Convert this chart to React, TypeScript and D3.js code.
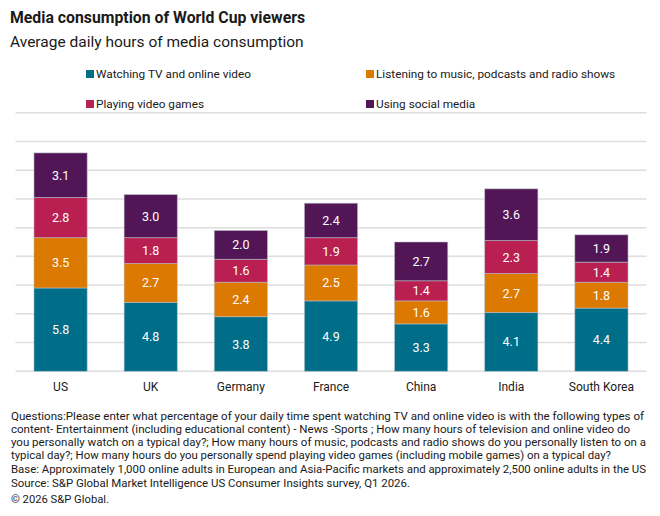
import React from "react";
import * as d3 from "d3";

const countries = ["US", "UK", "Germany", "France", "China", "India", "South Korea"];
const seriesNames = [
  "Watching TV and online video",
  "Listening to music, podcasts and radio shows",
  "Playing video games",
  "Using social media",
];
const seriesColors = ["#006e88", "#dc7900", "#b91f50", "#521656"];
const tvVideo = [5.8, 4.8, 3.8, 4.9, 3.3, 4.1, 4.4];
const audio = [3.5, 2.7, 2.4, 2.5, 1.6, 2.7, 1.8];
const games = [2.8, 1.8, 1.6, 1.9, 1.4, 2.3, 1.4];
const social = [3.1, 3.0, 2.0, 2.4, 2.7, 3.6, 1.9];
const gridTicks = [0, 2, 4, 6, 8, 10, 12, 14, 16, 18];

const footnoteLines = [
  "Questions:Please enter what percentage of your daily time spent watching TV and online video is with the following types of",
  "content- Entertainment (including educational content) - News -Sports ; How many hours of television and online video do",
  "you personally watch on a typical day?; How many hours of music, podcasts and radio shows do you personally listen to on a",
  "typical day?; How many hours do you personally spend playing video games (including mobile games) on a typical day?",
];
const baseLine =
  "Base: Approximately 1,000 online adults in European and Asia-Pacific markets and approximately 2,500 online adults in the US";
const sourceLine = "Source: S&P Global Market Intelligence US Consumer Insights survey, Q1 2026.";
const copyrightLine = "© 2026 S&P Global.";

const W = 660;
const H = 516;
const FONT = "Roboto, 'Liberation Sans', Arial, sans-serif";

// widths the footnote lines are fitted to, in px
const footnoteWidths = [633, 619, 635, 600];

export default function App() {
  const plot = { left: 15.5, right: 646.5, top: 112.7, bottom: 371.3 };

  const x = d3
    .scaleBand<string>()
    .domain(countries)
    .range([plot.left, plot.right])
    .paddingInner(0.41)
    .paddingOuter(0.205);

  const y = d3.scaleLinear().domain([0, 18]).range([plot.bottom, plot.top]);

  const rows = countries.map((c, i) => ({
    country: c,
    s0: tvVideo[i],
    s1: audio[i],
    s2: games[i],
    s3: social[i],
  }));
  const keys = ["s0", "s1", "s2", "s3"];
  const stacked = d3.stack<any>().keys(keys)(rows);

  const legendItems = [
    { x: 86, y: 74, i: 0 },
    { x: 366, y: 74, i: 1 },
    { x: 86, y: 104, i: 2 },
    { x: 366, y: 104, i: 3 },
  ];

  return (
    <svg
      width={W}
      height={H}
      style={{ position: "absolute", left: 0, top: 0, background: "#fff" }}
      fontFamily={FONT}
    >
      <text x={10} y={23} fontSize={15.8} fontWeight={700} fill="#1a1a1a">
        Media consumption of World Cup viewers
      </text>
      <text x={10} y={47} fontSize={15.5} fill="#1a1a1a">
        Average daily hours of media consumption
      </text>

      {legendItems.map((l) => (
        <g key={l.i}>
          <rect x={l.x} y={l.y - 4} width={8} height={8} fill={seriesColors[l.i]} />
          <text x={l.x + 10} y={l.y + 4} fontSize={11.8} fill="#1a1a1a">
            {seriesNames[l.i]}
          </text>
        </g>
      ))}

      {gridTicks.map((t) => (
        <line
          key={t}
          x1={plot.left}
          x2={plot.right}
          y1={y(t)}
          y2={y(t)}
          stroke="#dedede"
          strokeWidth={1.5}
        />
      ))}

      {stacked.map((layer, si) => (
        <g key={si}>
          {layer.map((d: any, ci: number) => {
            const x0 = x(countries[ci])!;
            const y0 = y(d[1]);
            const h = y(d[0]) - y(d[1]);
            const value = d[1] - d[0];
            return (
              <g key={ci}>
                <rect
                  x={x0}
                  y={y0}
                  width={x.bandwidth()}
                  height={h}
                  fill={seriesColors[si]}
                  stroke="#b9bfc8"
                  strokeOpacity={0.7}
                  strokeWidth={0.8}
                />
                <text
                  x={x0 + x.bandwidth() / 2}
                  y={y0 + h / 2 + 4.5}
                  textAnchor="middle"
                  fontSize={12.5}
                  fill="#ffffff"
                >
                  {value.toFixed(1)}
                </text>
              </g>
            );
          })}
        </g>
      ))}

      {countries.map((c) => (
        <text
          key={c}
          x={x(c)! + x.bandwidth() / 2}
          y={391}
          textAnchor="middle"
          fontSize={12}
          fill="#1a1a1a"
        >
          {c}
        </text>
      ))}

      <g fontSize={10.5} fill="#1a1a1a">
        {footnoteLines.map((t, i) => (
          <text
            key={i}
            x={11}
            y={419.5 + i * 13}
            textLength={footnoteWidths[i]}
            lengthAdjust="spacingAndGlyphs"
          >
            {t}
          </text>
        ))}
        <text x={11} y={473} textLength={635} lengthAdjust="spacingAndGlyphs">
          {baseLine}
        </text>
        <text x={11} y={487} textLength={399} lengthAdjust="spacingAndGlyphs">
          {sourceLine}
        </text>
        <text x={11} y={502.5} textLength={98} lengthAdjust="spacingAndGlyphs">
          {copyrightLine}
        </text>
      </g>
    </svg>
  );
}
